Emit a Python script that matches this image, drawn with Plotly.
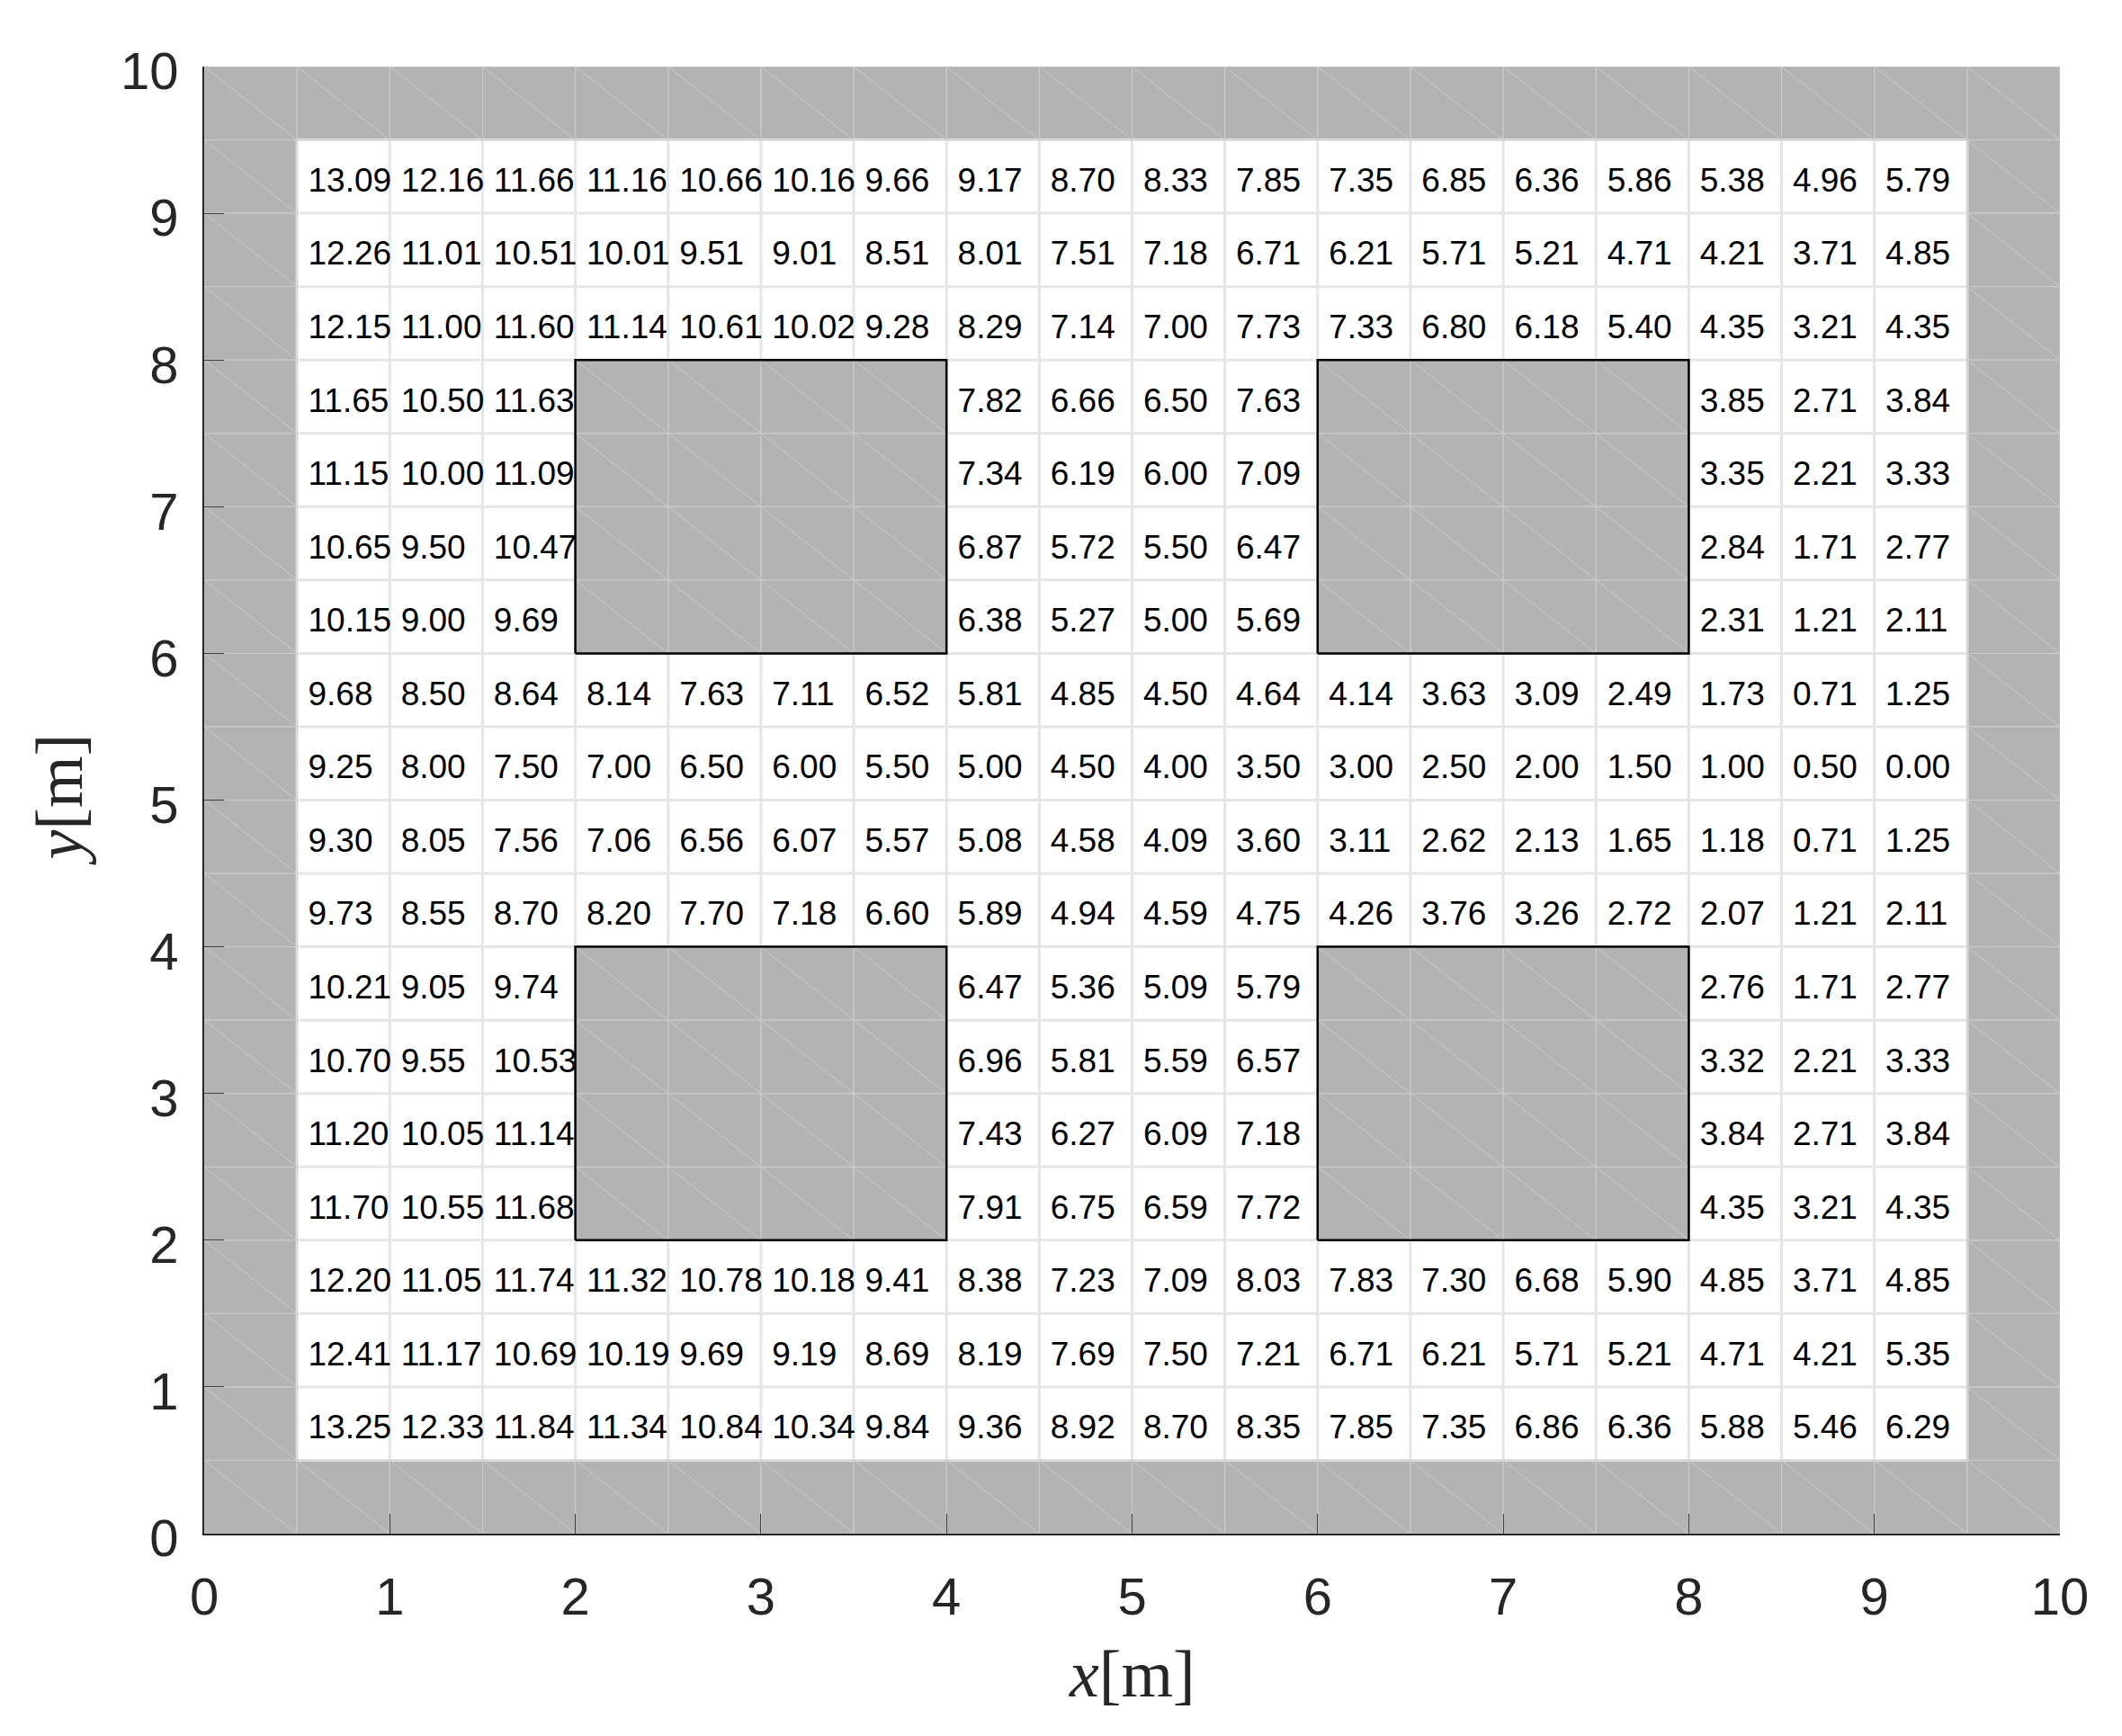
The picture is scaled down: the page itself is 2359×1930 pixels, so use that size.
import plotly.graph_objects as go

# ---------------- data ----------------
cell_x_left = [0.5 + 0.5 * i for i in range(18)]      # left edge of each column
cell_y_bottom = [9.0 - 0.5 * i for i in range(18)]    # bottom edge of each row (top row first)
N = None
row_01 = [13.09, 12.16, 11.66, 11.16, 10.66, 10.16, 9.66, 9.17, 8.70, 8.33, 7.85, 7.35, 6.85, 6.36, 5.86, 5.38, 4.96, 5.79]
row_02 = [12.26, 11.01, 10.51, 10.01, 9.51, 9.01, 8.51, 8.01, 7.51, 7.18, 6.71, 6.21, 5.71, 5.21, 4.71, 4.21, 3.71, 4.85]
row_03 = [12.15, 11.00, 11.60, 11.14, 10.61, 10.02, 9.28, 8.29, 7.14, 7.00, 7.73, 7.33, 6.80, 6.18, 5.40, 4.35, 3.21, 4.35]
row_04 = [11.65, 10.50, 11.63, N, N, N, N, 7.82, 6.66, 6.50, 7.63, N, N, N, N, 3.85, 2.71, 3.84]
row_05 = [11.15, 10.00, 11.09, N, N, N, N, 7.34, 6.19, 6.00, 7.09, N, N, N, N, 3.35, 2.21, 3.33]
row_06 = [10.65, 9.50, 10.47, N, N, N, N, 6.87, 5.72, 5.50, 6.47, N, N, N, N, 2.84, 1.71, 2.77]
row_07 = [10.15, 9.00, 9.69, N, N, N, N, 6.38, 5.27, 5.00, 5.69, N, N, N, N, 2.31, 1.21, 2.11]
row_08 = [9.68, 8.50, 8.64, 8.14, 7.63, 7.11, 6.52, 5.81, 4.85, 4.50, 4.64, 4.14, 3.63, 3.09, 2.49, 1.73, 0.71, 1.25]
row_09 = [9.25, 8.00, 7.50, 7.00, 6.50, 6.00, 5.50, 5.00, 4.50, 4.00, 3.50, 3.00, 2.50, 2.00, 1.50, 1.00, 0.50, 0.00]
row_10 = [9.30, 8.05, 7.56, 7.06, 6.56, 6.07, 5.57, 5.08, 4.58, 4.09, 3.60, 3.11, 2.62, 2.13, 1.65, 1.18, 0.71, 1.25]
row_11 = [9.73, 8.55, 8.70, 8.20, 7.70, 7.18, 6.60, 5.89, 4.94, 4.59, 4.75, 4.26, 3.76, 3.26, 2.72, 2.07, 1.21, 2.11]
row_12 = [10.21, 9.05, 9.74, N, N, N, N, 6.47, 5.36, 5.09, 5.79, N, N, N, N, 2.76, 1.71, 2.77]
row_13 = [10.70, 9.55, 10.53, N, N, N, N, 6.96, 5.81, 5.59, 6.57, N, N, N, N, 3.32, 2.21, 3.33]
row_14 = [11.20, 10.05, 11.14, N, N, N, N, 7.43, 6.27, 6.09, 7.18, N, N, N, N, 3.84, 2.71, 3.84]
row_15 = [11.70, 10.55, 11.68, N, N, N, N, 7.91, 6.75, 6.59, 7.72, N, N, N, N, 4.35, 3.21, 4.35]
row_16 = [12.20, 11.05, 11.74, 11.32, 10.78, 10.18, 9.41, 8.38, 7.23, 7.09, 8.03, 7.83, 7.30, 6.68, 5.90, 4.85, 3.71, 4.85]
row_17 = [12.41, 11.17, 10.69, 10.19, 9.69, 9.19, 8.69, 8.19, 7.69, 7.50, 7.21, 6.71, 6.21, 5.71, 5.21, 4.71, 4.21, 5.35]
row_18 = [13.25, 12.33, 11.84, 11.34, 10.84, 10.34, 9.84, 9.36, 8.92, 8.70, 8.35, 7.85, 7.35, 6.86, 6.36, 5.88, 5.46, 6.29]
rows = [row_01, row_02, row_03, row_04, row_05, row_06, row_07, row_08, row_09,
        row_10, row_11, row_12, row_13, row_14, row_15, row_16, row_17, row_18]

obstacle_x0 = [2, 6, 2, 6]
obstacle_x1 = [4, 8, 4, 8]
obstacle_y0 = [6, 6, 2, 2]
obstacle_y1 = [8, 8, 4, 4]

map_min, map_max = 0, 10
free_min, free_max = 0.5, 9.5
step = 0.5
tick_vals = list(range(0, 11))

# ---------------- styles ----------------
GRAY = "#b3b3b3"
AXIS = "#262626"
FONT = "Liberation Sans"

fig = go.Figure()

# background gray (walls) and white free area
fig.add_shape(type="rect", x0=map_min, x1=map_max, y0=map_min, y1=map_max,
              fillcolor=GRAY, line_width=0, layer="below")
fig.add_shape(type="rect", x0=free_min, x1=free_max, y0=free_min, y1=free_max,
              fillcolor="white", line_width=0, layer="below")

# white-area grid lines
n_free = int(round((free_max - free_min) / step)) + 1
gx, gy = [], []
for k in range(n_free):
    v = free_min + k * step
    gx += [v, v, None, free_min, free_max, None]
    gy += [free_min, free_max, None, v, v, None]
fig.add_trace(go.Scatter(x=gx, y=gy, mode="lines", line=dict(color="#e6e6e6", width=3),
                         hoverinfo="skip", showlegend=False))

# obstacle fills
ox, oy = [], []
for a, b, c, d in zip(obstacle_x0, obstacle_x1, obstacle_y0, obstacle_y1):
    ox += [a, b, b, a, a, None]
    oy += [c, c, d, d, c, None]
fig.add_trace(go.Scatter(x=ox, y=oy, mode="lines", fill="toself", fillcolor=GRAY,
                         line=dict(width=0, color=GRAY), hoverinfo="skip", showlegend=False))

# thin mesh lines for every gray (occupied) cell
def occupied(xl, yb):
    xc, yc = xl + step / 2, yb + step / 2
    if xc < free_min or xc > free_max or yc < free_min or yc > free_max:
        return True
    for a, b, c, d in zip(obstacle_x0, obstacle_x1, obstacle_y0, obstacle_y1):
        if a < xc < b and c < yc < d:
            return True
    return False

n_all = int(round((map_max - map_min) / step))
mx, my = [], []
for i in range(n_all):
    for j in range(n_all):
        xl = map_min + i * step
        yb = map_min + j * step
        if occupied(xl, yb):
            xr, yt = xl + step, yb + step
            mx += [xl, xr, xr, xl, xl, None, xl, xr, None]
            my += [yb, yb, yt, yt, yb, None, yt, yb, None]
fig.add_trace(go.Scatter(x=mx, y=my, mode="lines", line=dict(color="#cacaca", width=1),
                         hoverinfo="skip", showlegend=False))

# obstacle outlines
fig.add_trace(go.Scatter(x=ox, y=oy, mode="lines", line=dict(color="black", width=2.5),
                         hoverinfo="skip", showlegend=False))

# cell values
tx, ty, tt = [], [], []
for r, row in enumerate(rows):
    for c, val in enumerate(row):
        if val is None:
            continue
        tx.append(cell_x_left[c] + 0.06)
        ty.append(cell_y_bottom[r] + step / 2 - 0.045)
        tt.append(f"{val:.2f}")
fig.add_trace(go.Scatter(x=tx, y=ty, text=tt, mode="text", textposition="middle right",
                         textfont=dict(family=FONT, size=37, color="black"),
                         hoverinfo="skip", showlegend=False))

axis_common = dict(range=[map_min, map_max], tickvals=tick_vals, ticks="inside", ticklen=22,
                   tickwidth=1, tickcolor="#404040", showline=True, linecolor=AXIS, linewidth=2,
                   mirror=False, showgrid=False, zeroline=False,
                   tickfont=dict(family=FONT, size=58, color=AXIS), fixedrange=True)
fig.update_xaxes(**axis_common, ticklabelstandoff=18)
fig.update_yaxes(**axis_common, ticklabelstandoff=15, ticklabelshift=5)

fig.update_layout(
    width=2359, height=1930, autosize=False,
    margin=dict(l=219, r=77, t=66, b=233),
    plot_bgcolor="white", paper_bgcolor="white",
    annotations=[
        dict(text="<i>x</i>[m]", xref="paper", yref="paper", x=0.5, y=-0.0957,
             xanchor="center", yanchor="middle", showarrow=False,
             font=dict(family="Liberation Serif", size=74, color=AXIS)),
        dict(text="<i>y</i>[m]", xref="paper", yref="paper", x=-0.0785, y=0.5,
             xanchor="center", yanchor="middle", showarrow=False, textangle=-90,
             font=dict(family="Liberation Serif", size=74, color=AXIS)),
    ],
)

fig.write_html("out.html")
